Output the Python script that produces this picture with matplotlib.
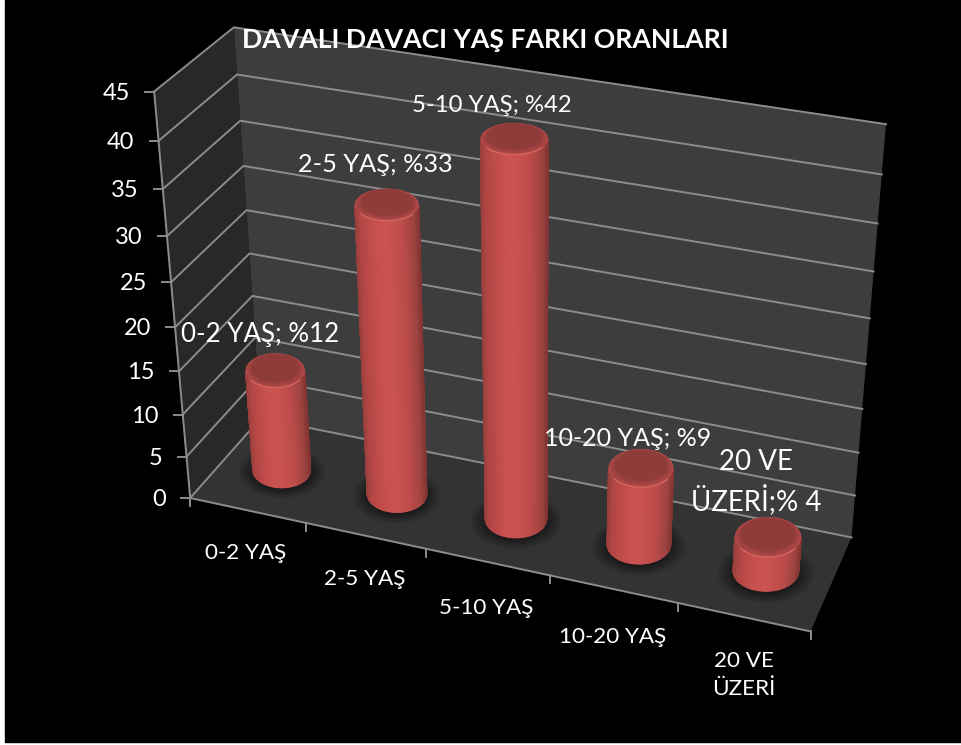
import matplotlib
matplotlib.use("Agg")
import matplotlib.pyplot as plt
from matplotlib.colors import LinearSegmentedColormap, to_rgb
from matplotlib.patches import Polygon, Rectangle
import numpy as np

# data
categories = ["0-2 YAŞ", "2-5 YAŞ", "5-10 YAŞ", "10-20 YAŞ", "20 VE\nÜZERİ"]
values = [12, 33, 42, 9, 4]
data_labels = ["0-2 YAŞ; %12", "2-5 YAŞ; %33", "5-10 YAŞ; %42", "10-20 YAŞ; %9", "20 VE\nÜZERİ;% 4"]
y_ticks = [0, 5, 10, 15, 20, 25, 30, 35, 40, 45]
title = "DAVALI DAVACI YAŞ FARKI ORANLARI"

plt.rcParams["font.family"] = ["Lato", "DejaVu Sans"]

# where the box corners land in the picture: (x, y, depth) -> pixel
box_points = [(0, 0, 0), (1, 0, 0), (1, 0, 1), (0, 0, 1), (0, 1, 0), (0, 1, 1), (1, 1, 1)]
box_pixels = [(189, 498), (811, 631), (851, 538), (262, 418), (155, 92), (233, 27), (886, 124)]


def fit_camera(points, pixels):
    rows = []
    for (x, y, z), (u, v) in zip(points, pixels):
        rows.append([x, y, z, 1, 0, 0, 0, 0, -u * x, -u * y, -u * z, -u])
        rows.append([0, 0, 0, 0, x, y, z, 1, -v * x, -v * y, -v * z, -v])
    return np.linalg.svd(np.array(rows, float))[2][-1].reshape(3, 4)


cam = fit_camera(box_points, box_pixels)


def project(x, y, z):
    h = cam @ np.array([x, y, z, 1.0])
    return h[:2] / h[2]


def vy(v):
    return v / 45.0


def ellipse_at(cx, y, cz, rx, rz):
    # level ellipse around the projected centre, size taken from the local scale
    c = project(cx, y, cz)
    a = abs(project(cx + rx, y, cz)[0] - project(cx - rx, y, cz)[0]) / 2
    b = abs(project(cx, y, cz + rz)[1] - project(cx, y, cz - rz)[1]) / 2
    return c, a, b


def mix(c1, c2, t):
    return tuple(np.array(to_rgb(c1)) * (1 - t) + np.array(to_rgb(c2)) * t)


fig = plt.figure(figsize=(9.62, 7.45), dpi=100, facecolor="white")
ax = fig.add_axes([0, 0, 1, 1])
ax.set_xlim(0, 962)
ax.set_ylim(745, 0)
ax.axis("off")
ax.add_patch(Rectangle((5, 0), 957, 742, color="black", zorder=0))

# walls and floor
grid_c = "#8c8c8c"
left = [project(0, 0, 0), project(0, 1, 0), project(0, 1, 1), project(0, 0, 1)]
back = [project(0, 0, 1), project(0, 1, 1), project(1, 1, 1), project(1, 0, 1)]
floor = [project(0, 0, 0), project(1, 0, 0), project(1, 0, 1), project(0, 0, 1)]
ax.add_patch(Polygon(left, color="#282828", lw=0, zorder=1))
ax.add_patch(Polygon(back, color="#3d3d3d", lw=0, zorder=1))
ax.add_patch(Polygon(floor, color="#333333", lw=0, zorder=1))

for t in y_ticks:
    a = project(0, vy(t), 0)
    b = project(0, vy(t), 1)
    c = project(1, vy(t), 1)
    ax.plot([a[0], b[0], c[0]], [a[1], b[1], c[1]], color=grid_c, lw=1.4, zorder=2)
    ax.plot([a[0] - 9, a[0]], [a[1], a[1]], color=grid_c, lw=1.4, zorder=2)
    ax.text(a[0] - 24, a[1] + 1.5, str(t), color="white", fontsize=17, ha="right", va="center", zorder=6)

# axis edges
for p1, p2 in [((0, 0, 0), (0, 1, 0)), ((0, 0, 0), (1, 0, 0))]:
    a = project(*p1)
    b = project(*p2)
    ax.plot([a[0], b[0]], [a[1], b[1]], color=grid_c, lw=1.4, zorder=2)

for i in range(len(categories) + 1):
    a = project(i / len(categories), 0, 0)
    ax.plot([a[0], a[0]], [a[1], a[1] + 8], color=grid_c, lw=1.4, zorder=2)

cat_off = [(-2, 33), (-1, 33), (-1, 36), (-1, 38), (0, 34)]
for i, name in enumerate(categories):
    a = project((i + 0.5) / len(categories), 0, 0)
    ax.text(a[0] + cat_off[i][0], a[1] + cat_off[i][1], name, color="white", fontsize=16.2, ha="center", va="top",
            linespacing=1.5, zorder=6)

# cylinders
rx = 0.051
rz = 0.22
cz = 0.485
theta = np.linspace(0, 2 * np.pi, 121)
label_off = [(-15, -36), (-12, -40), (-22, -33), (-13, -30), (-12, -55)]
label_size = [18.6, 18.2, 17.2, 18, 19.9]
body_cmap = LinearSegmentedColormap.from_list("body", [
    (0.0, "#96403d"), (0.07, "#b04644"), (0.3, "#c8504e"), (0.5, "#cc5452"),
    (0.75, "#bc4c4a"), (0.93, "#9c4340"), (1.0, "#853634")])

for i, val in enumerate(values):
    cx = (i + 0.5) / len(values)
    top_y = vy(val)
    c0, a0, b0 = ellipse_at(cx, 0, cz, rx, rz)
    c1, a1, b1 = ellipse_at(cx, top_y, cz, rx, rz)

    # soft shadow
    for k in np.linspace(1.5, 1.02, 12):
        ring = np.column_stack([c0[0] + k * a0 * np.cos(theta), c0[1] + 2 + k * b0 * np.sin(theta)])
        ax.add_patch(Polygon(ring, color="black", alpha=0.04, lw=0, zorder=3))

    # body, front half of the circle (y grows downward in this axes)
    ang = np.linspace(np.pi, 0, 61)
    xb = c0[0] + a0 * np.cos(ang)
    yb = c0[1] + b0 * np.sin(ang)
    xt = c1[0] + a1 * np.cos(ang)
    yt = c1[1] + b1 * np.sin(ang)
    X = np.vstack([xb, xt])
    Y = np.vstack([yb, yt])
    C = np.vstack([np.cos(ang), np.cos(ang)])
    ax.pcolormesh(X, Y, C, shading="gouraud", cmap=body_cmap, vmin=-1, vmax=1, zorder=4)

    # top face, bevel is thicker at the front edge
    for k, c in zip(np.linspace(1.0, 0.78, 10), np.linspace(0, 1, 10)):
        ring = np.column_stack([c1[0] + k * a1 * np.cos(theta),
                                c1[1] - (1 - k) * b1 * 0.7 + k * b1 * np.sin(theta)])
        ax.add_patch(Polygon(ring, color=mix("#b04a48", "#8e3b39", c), lw=0, zorder=5))
    fr = np.linspace(0.2 * np.pi, 0.8 * np.pi, 30)
    ax.plot(c1[0] + a1 * np.cos(fr), c1[1] + b1 * np.sin(fr), color="#d8685f", lw=0.9, zorder=5)

    ax.text(c1[0] + label_off[i][0], c1[1] + label_off[i][1], data_labels[i], color="white",
            fontsize=label_size[i], ha="center", va="center", linespacing=1.35, zorder=7)

ax.text(485, 40, title, color="white", fontsize=19.2, fontweight="bold", ha="center", va="center", zorder=7)

fig.savefig("out.png", dpi=100, facecolor="white")
